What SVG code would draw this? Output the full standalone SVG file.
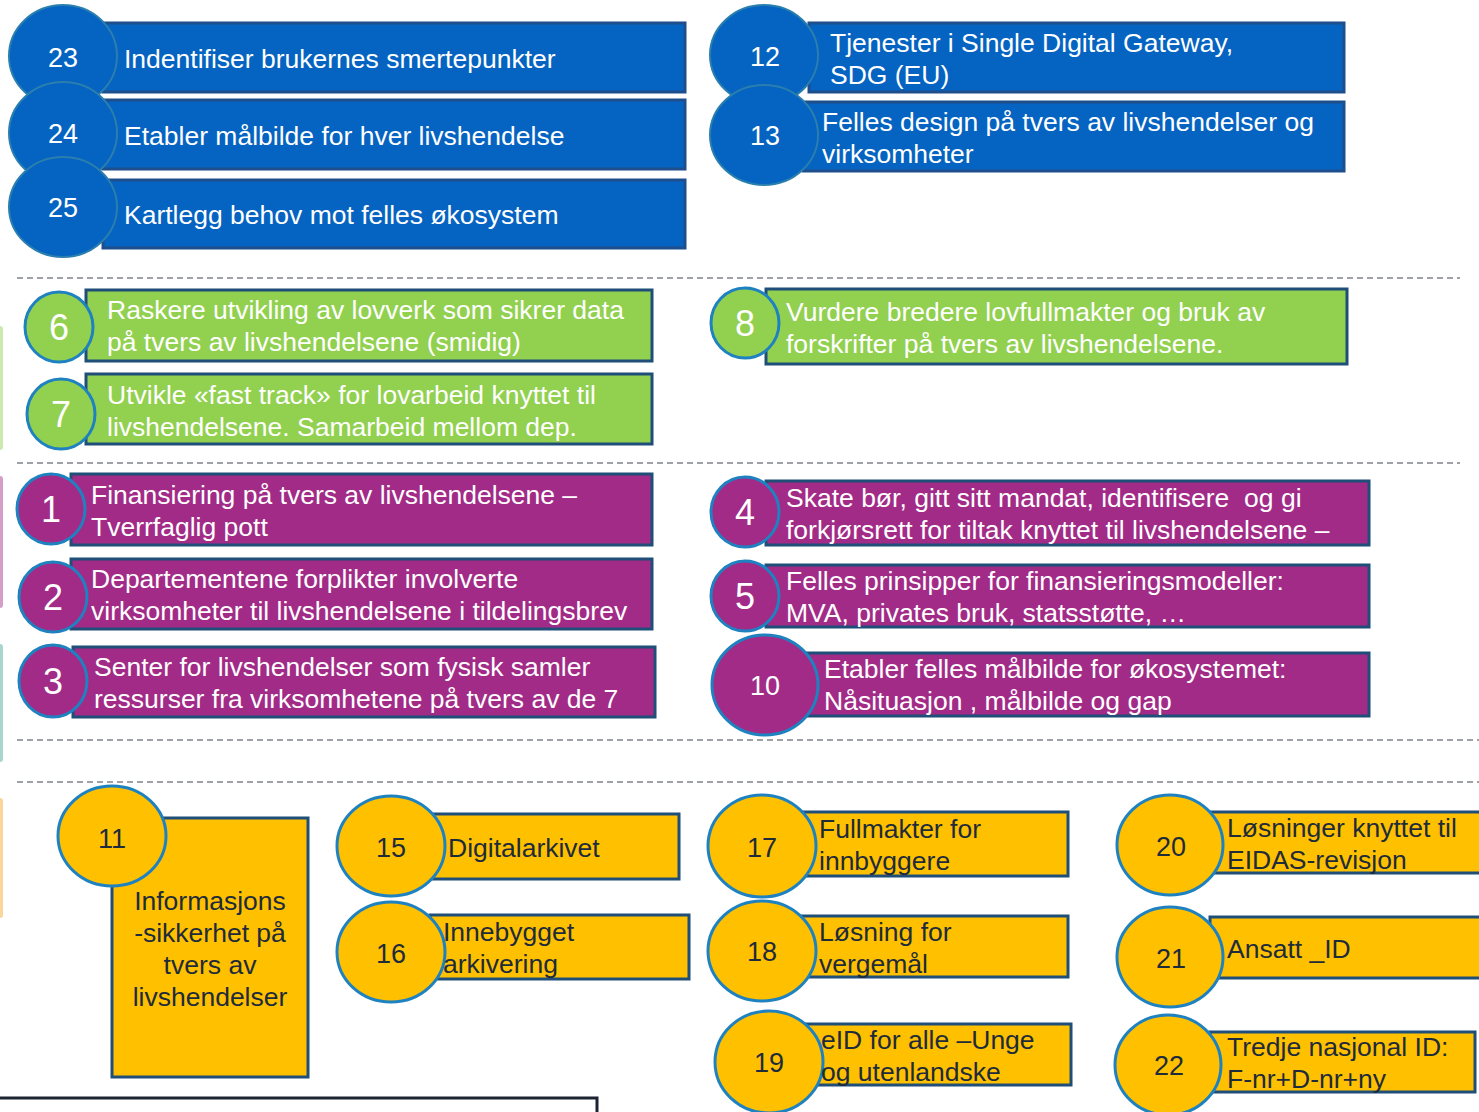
<svg xmlns="http://www.w3.org/2000/svg" width="1479" height="1112" viewBox="0 0 1479 1112">
<style>
text{font-family:"Liberation Sans",Arial,sans-serif}
.t{font-size:26.5px;fill:#ffffff}
.td{font-size:26.5px;fill:#1e2b3a}
.n{font-size:27px;fill:#ffffff;text-anchor:middle}
.nd{font-size:27px;fill:#1e2b3a;text-anchor:middle}
.n1{font-size:36px;fill:#ffffff;text-anchor:middle}
.rb{fill:#0563C1;stroke:#1F4E8C;stroke-width:3}
.cb{fill:#0563C1;stroke:#2A7FAF;stroke-width:2}
.rg{fill:#92D050;stroke:#1F4E79;stroke-width:3}
.rp{fill:#A22B87;stroke:#1F4E79;stroke-width:3}
.ry{fill:#FFC000;stroke:#1F4E79;stroke-width:3}
.cg{fill:#92D050;stroke:#1F82C0;stroke-width:3}
.cp{fill:#A22B87;stroke:#1F82C0;stroke-width:3}
.cy{fill:#FFC000;stroke:#1F82C0;stroke-width:3}
.dash{stroke:#3F444D;stroke-width:1.2;stroke-dasharray:6 4;fill:none}
</style>
<rect width="1479" height="1112" fill="#ffffff"/>
<g id="side-bars" opacity="0.45">
<rect x="-3" y="326" width="6" height="124" rx="3" fill="#92D050"/>
<rect x="-3" y="476" width="6" height="132" rx="3" fill="#A22B87"/>
<rect x="-3" y="644" width="6" height="118" rx="3" fill="#3FA596"/>
<rect x="-3" y="798" width="6" height="120" rx="3" fill="#F5A623"/>
</g>
<g id="separators">
<line class="dash" x1="17" y1="278" x2="1460" y2="278"/>
<line class="dash" x1="17" y1="463" x2="1460" y2="463"/>
<line class="dash" x1="17" y1="740" x2="1479" y2="740"/>
<line class="dash" x1="17" y1="782" x2="1479" y2="782"/>
<polyline points="0,1098 597,1098 597,1112" fill="none" stroke="#1C2431" stroke-width="3"/>
</g>
<g id="connectors"></g>
<g id="node-23"><rect class="rb" x="103" y="23" width="582" height="69"/><ellipse class="cb" cx="63" cy="56" rx="54" ry="51"/><text class="n" x="63" y="67">23</text><text class="t" x="124" y="68">Indentifiser brukernes smertepunkter</text></g>
<g id="node-24"><rect class="rb" x="103" y="100" width="582" height="69"/><ellipse class="cb" cx="63" cy="133" rx="54" ry="51"/><text class="n" x="63" y="143">24</text><text class="t" x="124" y="145">Etabler målbilde for hver livshendelse</text></g>
<g id="node-25"><rect class="rb" x="103" y="180" width="582" height="68"/><ellipse class="cb" cx="63" cy="207" rx="54" ry="50"/><text class="n" x="63" y="217">25</text><text class="t" x="124" y="224">Kartlegg behov mot felles økosystem</text></g>
<g id="node-12"><rect class="rb" x="809" y="23" width="535" height="69"/><ellipse class="cb" cx="764" cy="55" rx="54" ry="50"/><text class="n" x="765" y="66">12</text><text class="t" x="830" y="52">Tjenester i Single Digital Gateway,</text><text class="t" x="830" y="84">SDG (EU)</text></g>
<g id="node-13"><rect class="rb" x="803" y="102" width="541" height="69"/><ellipse class="cb" cx="764" cy="135" rx="54" ry="50"/><text class="n" x="765" y="145">13</text><text class="t" x="822" y="131">Felles design på tvers av livshendelser og</text><text class="t" x="822" y="163">virksomheter</text></g>
<g id="node-6"><rect class="rg" x="86" y="290" width="566" height="71"/><ellipse class="cg" cx="59" cy="327" rx="34" ry="35"/><text class="n1" x="59" y="340">6</text><text class="t" x="107" y="319">Raskere utvikling av lovverk som sikrer data</text><text class="t" x="107" y="351">på tvers av livshendelsene (smidig)</text></g>
<g id="node-7"><rect class="rg" x="86" y="374" width="566" height="70"/><ellipse class="cg" cx="61" cy="414" rx="34" ry="35"/><text class="n1" x="61" y="427">7</text><text class="t" x="107" y="404">Utvikle «fast track» for lovarbeid knyttet til</text><text class="t" x="107" y="436">livshendelsene. Samarbeid mellom dep.</text></g>
<g id="node-8"><rect class="rg" x="766" y="289" width="581" height="75"/><ellipse class="cg" cx="745" cy="323" rx="34" ry="35"/><text class="n1" x="745" y="336">8</text><text class="t" x="786" y="321">Vurdere bredere lovfullmakter og bruk av</text><text class="t" x="786" y="353">forskrifter på tvers av livshendelsene.</text></g>
<g id="node-1"><rect class="rp" x="71" y="474" width="581" height="71"/><ellipse class="cp" cx="51" cy="509" rx="34" ry="35"/><text class="n1" x="51" y="522">1</text><text class="t" x="91" y="504">Finansiering på tvers av livshendelsene –</text><text class="t" x="91" y="536">Tverrfaglig pott</text></g>
<g id="node-2"><rect class="rp" x="71" y="559" width="581" height="70"/><ellipse class="cp" cx="53" cy="597" rx="34" ry="35"/><text class="n1" x="53" y="610">2</text><text class="t" x="91" y="588">Departementene forplikter involverte</text><text class="t" x="91" y="620">virksomheter til livshendelsene i tildelingsbrev</text></g>
<g id="node-3"><rect class="rp" x="73" y="647" width="582" height="70"/><ellipse class="cp" cx="53" cy="681" rx="34" ry="36"/><text class="n1" x="53" y="694">3</text><text class="t" x="94" y="676">Senter for livshendelser som fysisk samler</text><text class="t" x="94" y="708">ressurser fra virksomhetene på tvers av de 7</text></g>
<g id="node-4"><rect class="rp" x="766" y="481" width="603" height="64"/><ellipse class="cp" cx="745" cy="512" rx="34" ry="35"/><text class="n1" x="745" y="525">4</text><text class="t" x="786" y="507" xml:space="preserve">Skate bør, gitt sitt mandat, identifisere  og gi</text><text class="t" x="786" y="539">forkjørsrett for tiltak knyttet til livshendelsene –</text></g>
<g id="node-5"><rect class="rp" x="766" y="565" width="603" height="62"/><ellipse class="cp" cx="745" cy="596" rx="34" ry="35"/><text class="n1" x="745" y="609">5</text><text class="t" x="786" y="590">Felles prinsipper for finansieringsmodeller:</text><text class="t" x="786" y="622">MVA, privates bruk, statsstøtte, …</text></g>
<g id="node-10"><rect class="rp" x="806" y="653" width="563" height="63"/><ellipse class="cp" cx="765" cy="685" rx="53" ry="50"/><text class="n" x="765" y="695">10</text><text class="t" x="824" y="678">Etabler felles målbilde for økosystemet:</text><text class="t" x="824" y="710">Nåsituasjon , målbilde og gap</text></g>
<g id="node-11"><rect class="ry" x="112" y="818" width="196" height="259"/><ellipse class="cy" cx="112" cy="836" rx="54" ry="50"/><text class="nd" x="112" y="848">11</text><text class="td" x="210" y="910" text-anchor="middle">Informasjons</text><text class="td" x="210" y="942" text-anchor="middle">-sikkerhet på</text><text class="td" x="210" y="974" text-anchor="middle">tvers av</text><text class="td" x="210" y="1006" text-anchor="middle">livshendelser</text></g>
<g id="node-15"><rect class="ry" x="430" y="814" width="249" height="65"/><ellipse class="cy" cx="391" cy="846" rx="54" ry="50"/><text class="nd" x="391" y="857">15</text><text class="td" x="448" y="857">Digitalarkivet</text></g>
<g id="node-16"><rect class="ry" x="430" y="915" width="259" height="64"/><ellipse class="cy" cx="391" cy="952" rx="54" ry="50"/><text class="nd" x="391" y="963">16</text><text class="td" x="443" y="941">Innebygget</text><text class="td" x="443" y="973">arkivering</text></g>
<g id="node-17"><rect class="ry" x="800" y="812" width="268" height="64"/><ellipse class="cy" cx="762" cy="846" rx="54" ry="51"/><text class="nd" x="762" y="857">17</text><text class="td" x="819" y="838">Fullmakter for</text><text class="td" x="819" y="870">innbyggere</text></g>
<g id="node-18"><rect class="ry" x="800" y="916" width="268" height="61"/><ellipse class="cy" cx="762" cy="951" rx="54" ry="50"/><text class="nd" x="762" y="961">18</text><text class="td" x="819" y="941">Løsning for</text><text class="td" x="819" y="973">vergemål</text></g>
<g id="node-19"><rect class="ry" x="806" y="1024" width="265" height="61"/><ellipse class="cy" cx="769" cy="1062" rx="54" ry="51"/><text class="nd" x="769" y="1072">19</text><text class="td" x="821" y="1049">eID for alle –Unge</text><text class="td" x="821" y="1081">og utenlandske</text></g>
<g id="node-20"><rect class="ry" x="1210" y="812" width="275" height="61"/><ellipse class="cy" cx="1170" cy="845" rx="53" ry="50"/><text class="nd" x="1171" y="856">20</text><text class="td" x="1227" y="837">Løsninger knyttet til</text><text class="td" x="1227" y="869">EIDAS-revisjon</text></g>
<g id="node-21"><rect class="ry" x="1210" y="917" width="275" height="61"/><ellipse class="cy" cx="1170" cy="957" rx="53" ry="50"/><text class="nd" x="1171" y="968">21</text><text class="td" x="1227" y="958">Ansatt _ID</text></g>
<g id="node-22"><rect class="ry" x="1210" y="1032" width="265" height="60"/><ellipse class="cy" cx="1168" cy="1065" rx="53" ry="50"/><text class="nd" x="1169" y="1075">22</text><text class="td" x="1227" y="1056">Tredje nasjonal ID:</text><text class="td" x="1227" y="1088">F-nr+D-nr+ny</text></g>
</svg>
